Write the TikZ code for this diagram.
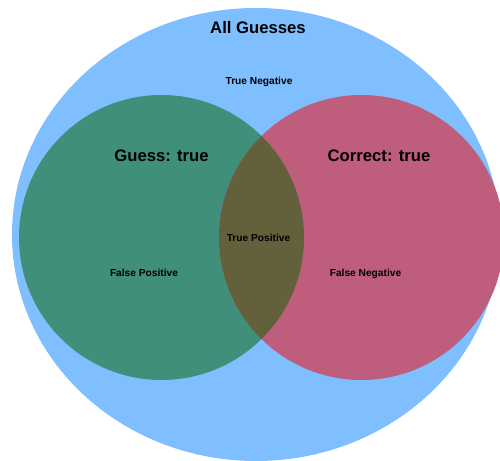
\documentclass[tikz,border=0pt]{standalone}
\usepackage{fontspec}
\setmainfont{Liberation Sans}
\usepackage{tikz}

\definecolor{allblue}{RGB}{128,191,255}
\definecolor{guessgreen}{RGB}{64,143,122}
\definecolor{correctred}{RGB}{190,94,124}
\definecolor{botholive}{RGB}{99,97,60}

\begin{document}
\begin{tikzpicture}[
    every node/.style={anchor=base, inner sep=0pt},
    bigtext/.style={font=\fontsize{9.5}{11}\selectfont\bfseries},
    smalltext/.style={font=\fontsize{5.8}{7}\selectfont\bfseries},
  ]
    \useasboundingbox (0,0) rectangle (10,9.22);

    % Все догадки
    \fill[allblue] (5.12,4.53) ellipse [x radius=4.88, y radius=4.53];
    \node[bigtext] (all) at (5.16, 8.554) {All Guesses};
    \node[smalltext] (tn) at (5.18, 7.534) {True Negative};

    % Догадка и правильный ответ
    \fill[guessgreen] (3.23,4.47) circle (2.85);
    \fill[correctred] (7.23,4.47) circle (2.85);
    \begin{scope}
      \clip (3.23,4.47) circle (2.85);
      \fill[botholive] (7.23,4.47) circle (2.85);
    \end{scope}

    % Подписи
    \node[bigtext] (guess) at (3.23, 5.98) {Guess: true};
    \node[bigtext] (correct) at (7.58, 5.98) {Correct: true};
    \node[smalltext] (tp) at (5.17, 4.394) {True Positive};
    \node[smalltext] (fp) at (2.88, 3.682) {False Positive};
    \node[smalltext] (fn) at (7.31, 3.682) {False Negative};
\end{tikzpicture}
\end{document}
